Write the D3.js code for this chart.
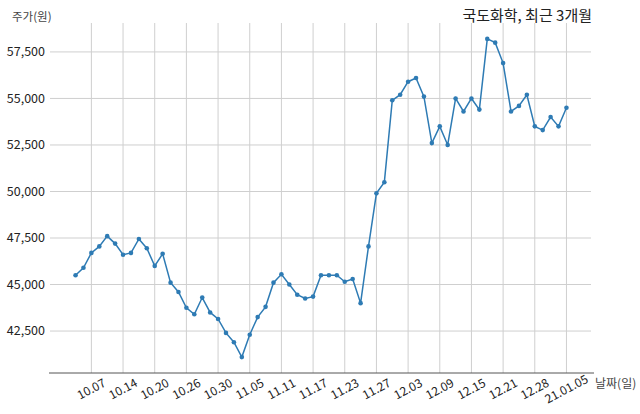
<!DOCTYPE html>
<html><head><meta charset="utf-8">
<script src="https://cdn.jsdelivr.net/npm/d3@7"></script>
<style>
body{margin:0;background:#fff;}
text{font-family:"Noto Sans CJK KR","Noto Sans",sans-serif;}
</style></head>
<body><svg id="c" width="640" height="414"></svg>
<script>
const dates = ["10.05","10.06","10.07","10.08","10.12","10.13","10.14","10.15","10.16","10.19","10.20","10.21","10.22","10.23","10.26","10.27","10.28","10.29","10.30",
"11.02","11.03","11.04","11.05","11.06","11.09","11.10","11.11","11.12","11.13","11.16","11.17","11.18","11.19","11.20","11.23","11.24","11.25","11.26","11.27","11.30",
"12.01","12.02","12.03","12.04","12.07","12.08","12.09","12.10","12.11","12.14","12.15","12.16","12.17","12.18","12.21","12.22","12.23","12.24","12.28","12.29","12.30",
"21.01.04","21.01.05"];
const prices = [45500,45900,46700,47050,47600,47200,46600,46700,47450,46950,46000,46650,45100,44600,43750,43400,44300,43500,43150,42400,41900,
41100,42300,43250,43800,45100,45550,45000,44450,44250,44350,45500,45500,45500,45150,45300,44000,47050,49900,50500,
54900,55200,55900,56100,55100,52600,53500,52500,55000,54300,55000,54400,58200,58000,56900,54300,54600,55200,53500,53300,54000,53500,54500];
const xTickLabels = ["10.07","10.14","10.20","10.26","10.30","11.05","11.11","11.17","11.23","11.27","12.03","12.09","12.15","12.21","12.28","21.01.05"];
const yTicks = [42500,45000,47500,50000,52500,55000,57500];
const title = "국도화학, 최근 3개월";
const yTitle = "주가(원)";
const xTitle = "날짜(일)";

const svg = d3.select("#c");
const L = 51, R = 591, T = 23, B = 373;
const n = dates.length;
const padX = (n-1)*0.05;
const x = d3.scaleLinear().domain([-padX, n-1+padX]).range([L, R]);
const ymin = d3.min(prices), ymax = d3.max(prices), pad = (ymax-ymin)*0.05;
const y = d3.scaleLinear().domain([ymin-pad, ymax+pad]).range([B, T]);

const tickIdx = xTickLabels.map(l => dates.indexOf(l));

// grid
svg.append("g").selectAll("line.h").data(yTicks).join("line")
  .attr("x1", L-1).attr("x2", R).attr("y1", d=>y(d)).attr("y2", d=>y(d))
  .attr("stroke","#cfcfcf").attr("stroke-width",1);
svg.append("g").selectAll("line.v").data(tickIdx).join("line")
  .attr("x1", d=>x(d)).attr("x2", d=>x(d)).attr("y1", T).attr("y2", B)
  .attr("stroke","#cfcfcf").attr("stroke-width",1);

// y labels
svg.append("g").selectAll("text").data(yTicks).join("text")
  .attr("x", 45).attr("y", d=>y(d)).attr("dy","0.35em")
  .attr("text-anchor","end").attr("font-size",12.5).attr("fill","#222")
  .text(d=>d3.format(",")(d));

// x axis line
svg.append("line").attr("x1", L-2).attr("x2", R+3).attr("y1", B).attr("y2", B)
  .attr("stroke","#555").attr("stroke-width",1);

// x labels
svg.append("g").selectAll("text").data(tickIdx).join("text")
  .attr("transform", (d)=>`translate(${x(d)},${B+16}) rotate(-28)`)
  .attr("text-anchor","middle").attr("dy","0.35em")
  .attr("font-size",12).attr("fill","#222")
  .text((d,i)=>xTickLabels[i]);

// line
const line = d3.line().x((d,i)=>x(i)).y(d=>y(d));
svg.append("path").datum(prices).attr("d", line)
  .attr("fill","none").attr("stroke","#2e7bb4").attr("stroke-width",1.5);
svg.append("g").selectAll("circle").data(prices).join("circle")
  .attr("cx",(d,i)=>x(i)).attr("cy",d=>y(d)).attr("r",2.3).attr("fill","#2e7bb4");

// titles
svg.append("text").attr("x",12).attr("y",21).attr("font-size",11.5).attr("fill","#444").text(yTitle);
svg.append("text").attr("x",592).attr("y",21).attr("text-anchor","end").attr("font-size",15).attr("fill","#222").text(title);
svg.append("text").attr("x",595).attr("y",388).attr("font-size",12).attr("fill","#444").text(xTitle);
</script></body></html>
